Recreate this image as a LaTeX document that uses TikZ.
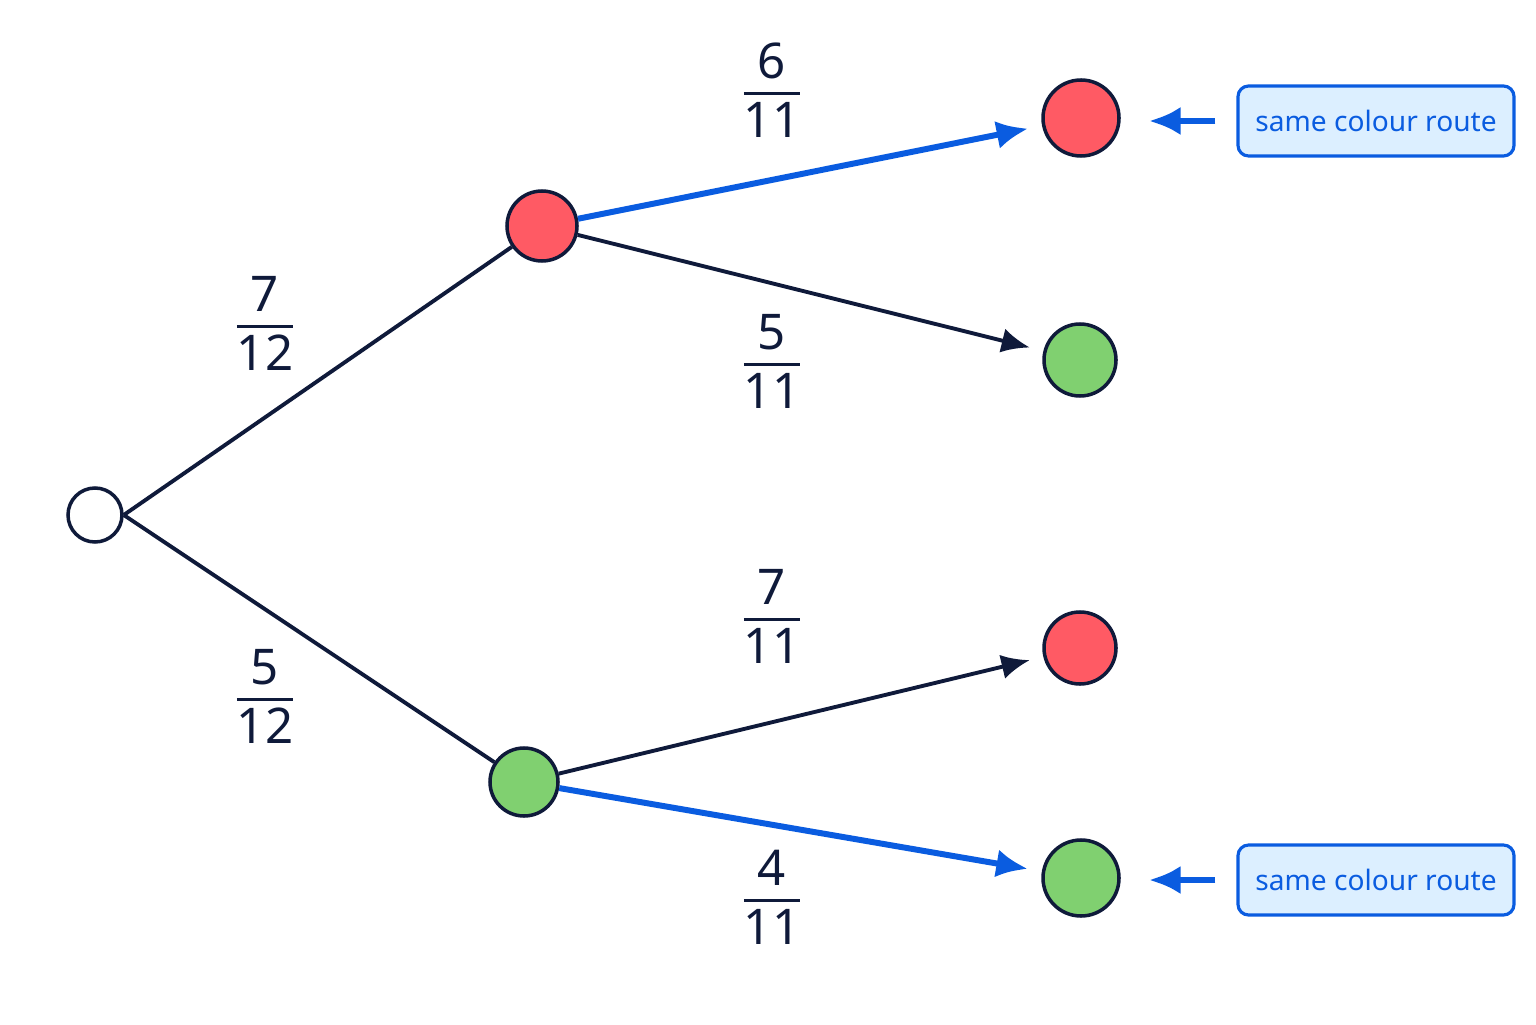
\documentclass[tikz,border=0pt]{standalone}
\usepackage{fontspec}
\setmainfont{Noto Sans}
\usetikzlibrary{positioning,arrows.meta}
\definecolor{ink}{HTML}{0F1A3A}
\definecolor{ballred}{HTML}{FF5A64}
\definecolor{ballgreen}{HTML}{80D070}
\definecolor{route}{HTML}{0A5CE0}
\definecolor{notefill}{HTML}{DCEFFF}
\newcommand{\frc}[2]{{\setlength{\arrayrulewidth}{0.9pt}%
  \begin{tabular}{@{}c@{}}#1\\[-1pt]\hline\noalign{\vskip1pt}#2\end{tabular}}}
\tikzset{
  ball/.style={circle, draw=ink, line width=1pt, inner sep=0pt},
  branch/.style={draw=ink, line width=1.1pt, -{Latex[length=8pt,width=7pt]}, shorten >=4pt},
  hot/.style={draw=route, line width=1.7pt, -{Latex[length=9pt,width=8pt]}, shorten >=4pt},
  prob/.style={font=\fontsize{14}{16}\selectfont, text=ink},
  note/.style={draw=route, fill=notefill, rounded corners=3pt, line width=0.9pt,
    minimum width=2.76cm, minimum height=0.7cm, text=route, font=\fontsize{8}{10}\selectfont}
}
\begin{document}
\begin{tikzpicture}
\useasboundingbox (0,0) rectangle (15.36,10.24);
% nodes %
\node[ball, fill=white, minimum size=0.54cm] (root) at (0.95,5.09) {};
\node[ball, fill=ballred, minimum size=0.70cm] (r) at (5.42,7.98) {};
\node[ball, fill=ballgreen, minimum size=0.68cm] (g) at (5.24,2.42) {};
\node[ball, fill=ballred, minimum size=0.76cm] (rr) at (10.81,9.06) {};
\node[ball, fill=ballgreen, minimum size=0.72cm] (rg) at (10.80,6.64) {};
\node[ball, fill=ballred, minimum size=0.72cm] (gr) at (10.80,3.76) {};
\node[ball, fill=ballgreen, minimum size=0.76cm] (gg) at (10.81,1.46) {};

\node[prob] (p1) at (2.65,6.94) {\frc{7}{12}};
\node[prob] (p2) at (2.65,3.21) {\frc{5}{12}};
\node[prob] (p3) at (7.72,9.27) {\frc{6}{11}};
\node[prob] (p4) at (7.72,6.56) {\frc{5}{11}};
\node[prob] (p5) at (7.72,4.01) {\frc{7}{11}};
\node[prob] (p6) at (7.72,1.20) {\frc{4}{11}};

\node[note] (n1) at (13.76,9.03) {same colour route};
\node[note] (n2) at (13.76,1.44) {same colour route};

% edges %
\draw[ink, line width=1.1pt] (root.east) -- (r);
\draw[ink, line width=1.1pt] (root.east) -- (g);
\draw[hot] (r) -- (rr);
\draw[branch] (r) -- (rg);
\draw[branch] (g) -- (gr);
\draw[hot] (g) -- (gg);
\draw[route, line width=1.7pt, -{Latex[length=9pt,width=8pt]}, shorten <=6pt, shorten >=8pt] (n1.west) -- (n1.west -| rr.east);
\draw[route, line width=1.7pt, -{Latex[length=9pt,width=8pt]}, shorten <=6pt, shorten >=8pt] (n2.west) -- (n2.west -| gg.east);
\end{tikzpicture}
\end{document}
